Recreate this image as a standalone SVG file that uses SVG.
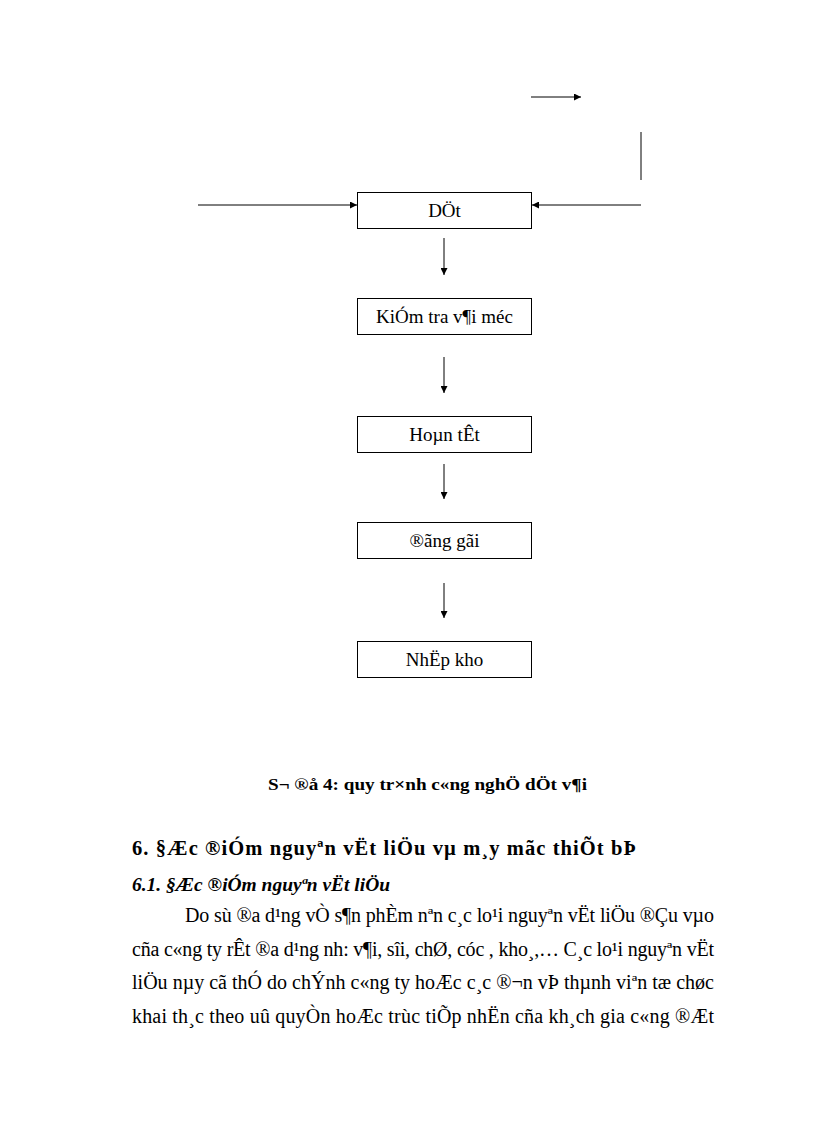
<svg xmlns="http://www.w3.org/2000/svg" width="816" height="1123" viewBox="0 0 816 1123">
<style>
.box{fill:#fff;stroke:#000;stroke-width:1}
.lbl{font-family:'Liberation Serif','Times New Roman',Times,serif;font-size:19px;text-anchor:middle;fill:#000}
.ln{stroke:#000;stroke-width:1;fill:none}
.body{font-family:'Liberation Serif','Times New Roman',Times,serif;font-size:20px;fill:#000}
.bold{font-family:'Liberation Serif','Times New Roman',Times,serif;font-weight:bold;fill:#000}
</style>
<defs>
<marker id="ah" viewBox="0 0 10 10" refX="10" refY="5" markerWidth="7" markerHeight="7" markerUnits="userSpaceOnUse" orient="auto">
<path d="M0,0 L10,5 L0,10 z" fill="#000"/>
</marker>
</defs>
<rect width="816" height="1123" fill="#fff"/>
<g id="connectors">
<line class="ln" x1="531" y1="97" x2="581" y2="97" marker-end="url(#ah)"/>
<line class="ln" x1="641" y1="132" x2="641" y2="180"/>
<line class="ln" x1="198" y1="205" x2="357" y2="205" marker-end="url(#ah)"/>
<line class="ln" x1="641" y1="205" x2="532" y2="205" marker-end="url(#ah)"/>
<line class="ln" x1="444" y1="238" x2="444" y2="275" marker-end="url(#ah)"/>
<line class="ln" x1="444" y1="357" x2="444" y2="393" marker-end="url(#ah)"/>
<line class="ln" x1="444" y1="464" x2="444" y2="499" marker-end="url(#ah)"/>
<line class="ln" x1="444" y1="583" x2="444" y2="618" marker-end="url(#ah)"/>
</g>
<g id="n-det">
<rect class="box" x="357.5" y="192.5" width="174" height="36"/>
<text class="lbl" x="444.5" y="217">DÖt</text>
</g>
<g id="n-kiemtra">
<rect class="box" x="357.5" y="298.5" width="174" height="36"/>
<text class="lbl" x="444.5" y="323">KiÓm tra v¶i méc</text>
</g>
<g id="n-hoantat">
<rect class="box" x="357.5" y="416.5" width="174" height="36"/>
<text class="lbl" x="444.5" y="441">Hoµn tÊt</text>
</g>
<g id="n-donggoi">
<rect class="box" x="357.5" y="522.5" width="174" height="36"/>
<text class="lbl" x="444.5" y="547">®ãng gãi</text>
</g>
<g id="n-nhapkho">
<rect class="box" x="357.5" y="641.5" width="174" height="36"/>
<text class="lbl" x="444.5" y="666">NhËp kho</text>
</g>
<g id="text">
<text class="bold" x="268" y="790" font-size="17" textLength="319" lengthAdjust="spacingAndGlyphs">S¬ ®å 4: quy tr×nh c«ng nghÖ dÖt v¶i</text>
<text class="bold" x="132" y="855" font-size="20.5" textLength="504" lengthAdjust="spacing">6. §Æc ®iÓm nguyªn  vËt liÖu  vµ m¸y mãc thiÕt  bÞ</text>
<text class="bold" x="132" y="891" font-size="18" font-style="italic" textLength="258" lengthAdjust="spacingAndGlyphs">6.1. §Æc ®iÓm nguyªn vËt liÖu</text>
<text class="body" x="185" y="922" textLength="529" lengthAdjust="spacing">Do sù ®a d¹ng vÒ s¶n phÈm nªn c¸c lo¹i nguyªn vËt liÖu ®Çu vµo</text>
<text class="body" x="132" y="956" textLength="582" lengthAdjust="spacing">cña c«ng ty rÊt ®a d¹ng nh:  v¶i, sîi, chØ, cóc , kho¸,… C¸c lo¹i nguyªn vËt</text>
<text class="body" x="132" y="989" textLength="582" lengthAdjust="spacing">liÖu nµy cã thÓ do chÝnh c«ng ty hoÆc c¸c ®¬n vÞ thµnh viªn tæ chøc</text>
<text class="body" x="132" y="1023" textLength="582" lengthAdjust="spacing">khai th¸c theo uû quyÒn hoÆc trùc tiÕp nhËn cña kh¸ch gia c«ng ®Æt</text>
</g>
</svg>
